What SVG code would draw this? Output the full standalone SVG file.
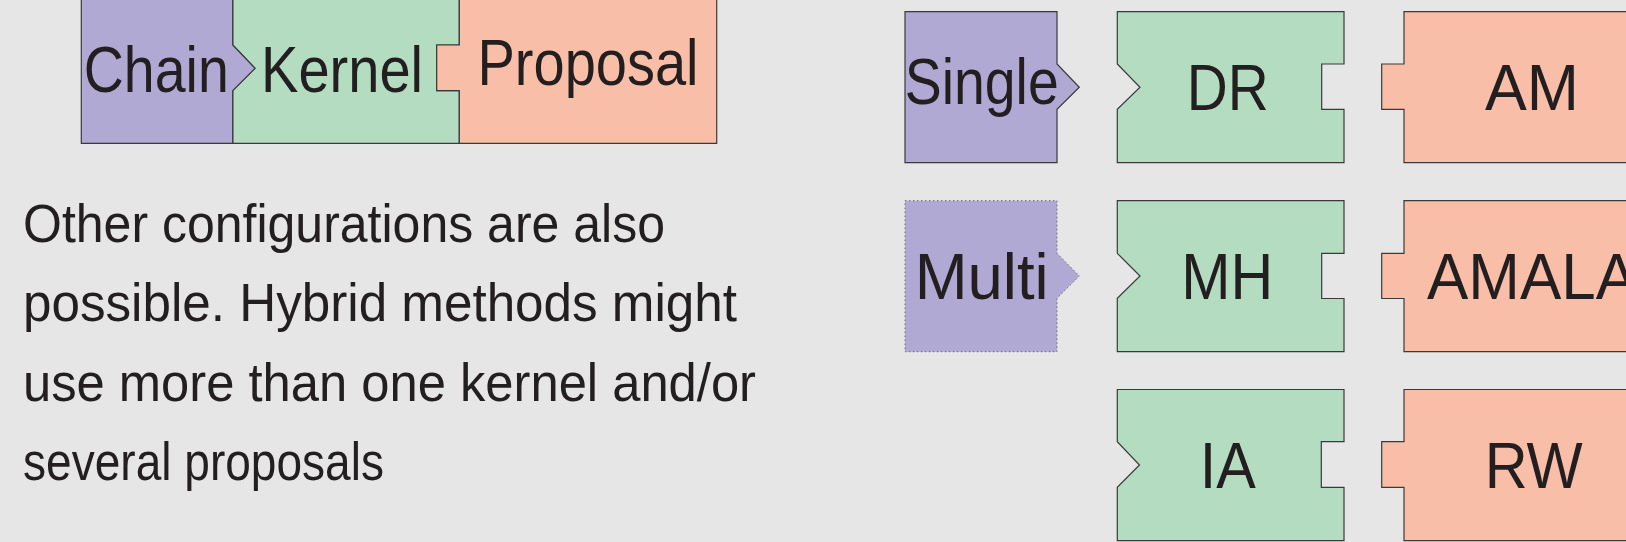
<svg xmlns="http://www.w3.org/2000/svg" width="1626" height="542" viewBox="0 0 1626 542">
  <style>
    .chain { fill: #afa9d4; stroke: #3a3a3a; stroke-width: 1.2; }
    .chain-dotted { fill: #afa9d4; stroke: #6a6a7a; stroke-width: 1; stroke-dasharray: 1.5 2.5; }
    .kernel { fill: #b3dcc1; stroke: #3a3a3a; stroke-width: 1.2; }
    .proposal { fill: #f9bea7; stroke: #3a3a3a; stroke-width: 1.2; }
    .lbl { font-family: "Liberation Sans", Arial, sans-serif; font-size: 65px; fill: #231f20; text-anchor: middle; }
    .body { font-family: "Liberation Sans", Arial, sans-serif; font-size: 54px; fill: #231f20; }
  </style>
  <rect x="0" y="0" width="1626" height="542" fill="#e5e6e5"/>

  <g id="connectors"></g>

  <!-- Top-left combined puzzle -->
  <g id="node-kernel-top">
    <path class="kernel" d="M232.7,-5 H459.3 V45 H436.7 V90.7 H459.3 V143.3 H232.7 V90.7 L255,68.3 L232.7,45 Z"/>
    <text class="lbl" x="342" y="91.7" textLength="162" lengthAdjust="spacingAndGlyphs">Kernel</text>
  </g>
  <g id="node-chain-top">
    <path class="chain" d="M81.3,-5 H232.7 V45 L255,68.3 L232.7,90.7 V143.3 H81.3 Z"/>
    <text class="lbl" x="156.3" y="91.7" textLength="145" lengthAdjust="spacingAndGlyphs">Chain</text>
  </g>
  <g id="node-proposal-top">
    <path class="proposal" d="M459.3,-5 H716.7 V143.3 H459.3 V90.7 H436.7 V45 H459.3 Z"/>
    <text class="lbl" x="588" y="85" textLength="221" lengthAdjust="spacingAndGlyphs">Proposal</text>
  </g>

  <!-- Body text -->
  <g id="description">
    <text class="body" x="23" y="241.7" textLength="642" lengthAdjust="spacingAndGlyphs">Other configurations are also</text>
    <text class="body" x="23" y="320.7" textLength="714" lengthAdjust="spacingAndGlyphs">possible.  Hybrid methods might</text>
    <text class="body" x="23" y="400.7" textLength="733" lengthAdjust="spacingAndGlyphs">use more than one kernel and/or</text>
    <text class="body" x="23" y="480" textLength="361" lengthAdjust="spacingAndGlyphs">several proposals</text>
  </g>

  <!-- Chain column -->
  <g id="node-single">
    <path class="chain" d="M905,11.7 H1057 V64 L1079.3,87.3 L1057,109.3 V162.7 H905 Z"/>
    <text class="lbl" x="981.7" y="104" textLength="154" lengthAdjust="spacingAndGlyphs">Single</text>
  </g>
  <g id="node-multi">
    <path class="chain-dotted" d="M905,200.7 H1057 V253.3 L1079.3,276 L1057,298.3 V351.7 H905 Z"/>
    <text class="lbl" x="981.7" y="299.3" textLength="134" lengthAdjust="spacingAndGlyphs">Multi</text>
  </g>

  <!-- Kernel column -->
  <g id="node-dr">
    <path class="kernel" d="M1117.3,11.7 H1344 V64 H1321.7 V109.3 H1344 V162.7 H1117.3 V109.3 L1140,87.3 L1117.3,64 Z"/>
    <text class="lbl" x="1227.8" y="110" textLength="82" lengthAdjust="spacingAndGlyphs">DR</text>
  </g>
  <g id="node-mh">
    <path class="kernel" d="M1117.3,200.7 H1344 V253.3 H1321.7 V298.5 H1344 V351.7 H1117.3 V298.3 L1140,276 L1117.3,253.3 Z"/>
    <text class="lbl" x="1227.2" y="299.3" textLength="92" lengthAdjust="spacingAndGlyphs">MH</text>
  </g>
  <g id="node-ia">
    <path class="kernel" d="M1117.3,389.5 H1344 V441.7 H1321.3 V487.3 H1344 V540.7 H1117.3 V487.3 L1139.5,465 L1117.3,441.7 Z"/>
    <text class="lbl" x="1227.8" y="488.3" textLength="56" lengthAdjust="spacingAndGlyphs">IA</text>
  </g>

  <!-- Proposal column -->
  <g id="node-am">
    <path class="proposal" d="M1404,11.7 H1665 V162.7 H1404 V109.3 H1381.7 V64 H1404 Z"/>
    <text class="lbl" x="1532" y="110" textLength="94" lengthAdjust="spacingAndGlyphs">AM</text>
  </g>
  <g id="node-amala">
    <path class="proposal" d="M1404,200.7 H1665 V351.7 H1404 V298.5 H1381.7 V253.3 H1404 Z"/>
    <text class="lbl" x="1532" y="299.3" textLength="210" lengthAdjust="spacingAndGlyphs">AMALA</text>
  </g>
  <g id="node-rw">
    <path class="proposal" d="M1404,389.5 H1665 V540.7 H1404 V487.3 H1381.7 V441.7 H1404 Z"/>
    <text class="lbl" x="1533.7" y="488.3" textLength="98" lengthAdjust="spacingAndGlyphs">RW</text>
  </g>
</svg>
